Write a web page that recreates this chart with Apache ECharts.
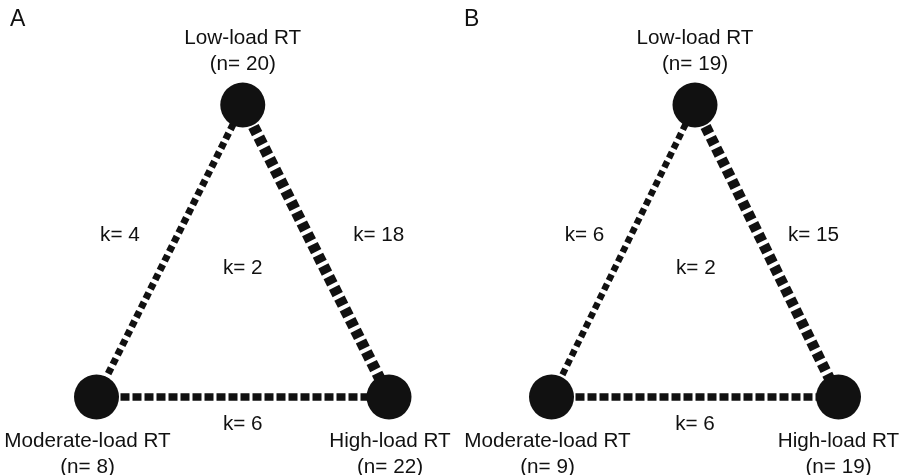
<!DOCTYPE html>
<html>
<head>
<meta charset="utf-8">
<script src="https://cdn.jsdelivr.net/npm/echarts@6/dist/echarts.min.js"></script>
<style>html,body{margin:0;padding:0;background:#fff;}#c{width:901px;height:475px;}</style>
</head>
<body>
<div id="c"></div>
<script>
// ---- data ----
const panelLetters = ['A', 'B'];
const nodeNames = ['Low-load RT', 'Moderate-load RT', 'High-load RT'];
const nodeX = [0.5, 0, 1];
const nodeY = [1, 0, 0];
const nA = [20, 8, 22];
const nB = [19, 9, 19];
const edgePairs = [[0, 1], [0, 2], [1, 2]];
const kA = [4, 18, 6];
const kB = [6, 15, 6];
const kMultiA = 2;
const kMultiB = 2;

// ---- layout / style (kept separate from data) ----
const gridsPx = [
  { left: 96.5, top: 105, width: 292.5, height: 292 },
  { left: 551.5, top: 105, width: 287, height: 292 }
];
const edgeWidth = [[7, 11.5, 7.5], [6.5, 11, 7.5]];
const edgeDash = [[[6.5, 4], [8, 4], [9, 3]], [[6.5, 4], [8, 4], [9, 3]]];
// order: edge0 (left), edge1 (right), edge2 (bottom), multi-arm (centre)
const kLabelPos = [
  [[0.08, 0.555], [0.965, 0.555], [0.5, -0.095], [0.5, 0.44]],
  [[0.115, 0.555], [0.913, 0.555], [0.5, -0.093], [0.503, 0.44]]
];
const labelOffsetX = [[0, -9, 1], [0, -4, 0]];
const letterLeft = [10, 464];
const FONT = 'Liberation Sans, Arial, sans-serif';
const INK = '#111';
const FS = 20.7;

const chart = echarts.init(document.getElementById('c'), null, { renderer: 'canvas' });

const ns = [nA, nB];
const ks = [kA, kB];
const kMulti = [kMultiA, kMultiB];

const grid = [], xAxis = [], yAxis = [], series = [], graphic = [];
for (let p = 0; p < 2; p++) {
  grid.push(Object.assign({}, gridsPx[p]));
  xAxis.push({ type: 'value', gridIndex: p, min: 0, max: 1, show: false });
  yAxis.push({ type: 'value', gridIndex: p, min: 0, max: 1, show: false });
  graphic.push({
    type: 'text', left: letterLeft[p], top: 8,
    style: { text: panelLetters[p], fontSize: 23, fontFamily: FONT, fill: INK }
  });
  const nodes = nodeNames.map((nm, i) => ({
    name: nm,
    value: [nodeX[i], nodeY[i]],
    label: {
      show: true,
      position: nodeY[i] === 1 ? 'top' : 'bottom',
      distance: nodeY[i] === 1 ? 5 : 9,
      offset: [labelOffsetX[p][i], 0],
      formatter: nm + '\n(n= ' + ns[p][i] + ')',
      fontSize: FS, lineHeight: 26, color: INK, fontFamily: FONT, align: 'center'
    }
  }));
  const links = edgePairs.map((e, j) => ({
    source: e[0], target: e[1],
    lineStyle: { width: edgeWidth[p][j], type: edgeDash[p][j], color: INK, opacity: 1, curveness: 0 }
  }));
  series.push({
    type: 'graph', layout: 'none', coordinateSystem: 'cartesian2d',
    xAxisIndex: p, yAxisIndex: p,
    symbol: 'circle', symbolSize: 45,
    itemStyle: { color: INK, opacity: 1 },
    data: nodes, links: links,
    silent: true, animation: false, z: 2
  });
  const kVals = ks[p].concat([kMulti[p]]);
  series.push({
    type: 'scatter', xAxisIndex: p, yAxisIndex: p, clip: false,
    symbolSize: 0, silent: true, animation: false, z: 3,
    itemStyle: { opacity: 1, color: INK },
    data: kVals.map((k, j) => ({ value: [kLabelPos[p][j][0], kLabelPos[p][j][1], k] })),
    label: {
      show: true, position: 'inside',
      formatter: (d) => 'k= ' + d.value[2],
      fontSize: FS, color: INK, fontFamily: FONT
    }
  });
}

chart.setOption({
  backgroundColor: '#fff',
  animation: false,
  graphic, grid, xAxis, yAxis, series
});
</script>
</body>
</html>
